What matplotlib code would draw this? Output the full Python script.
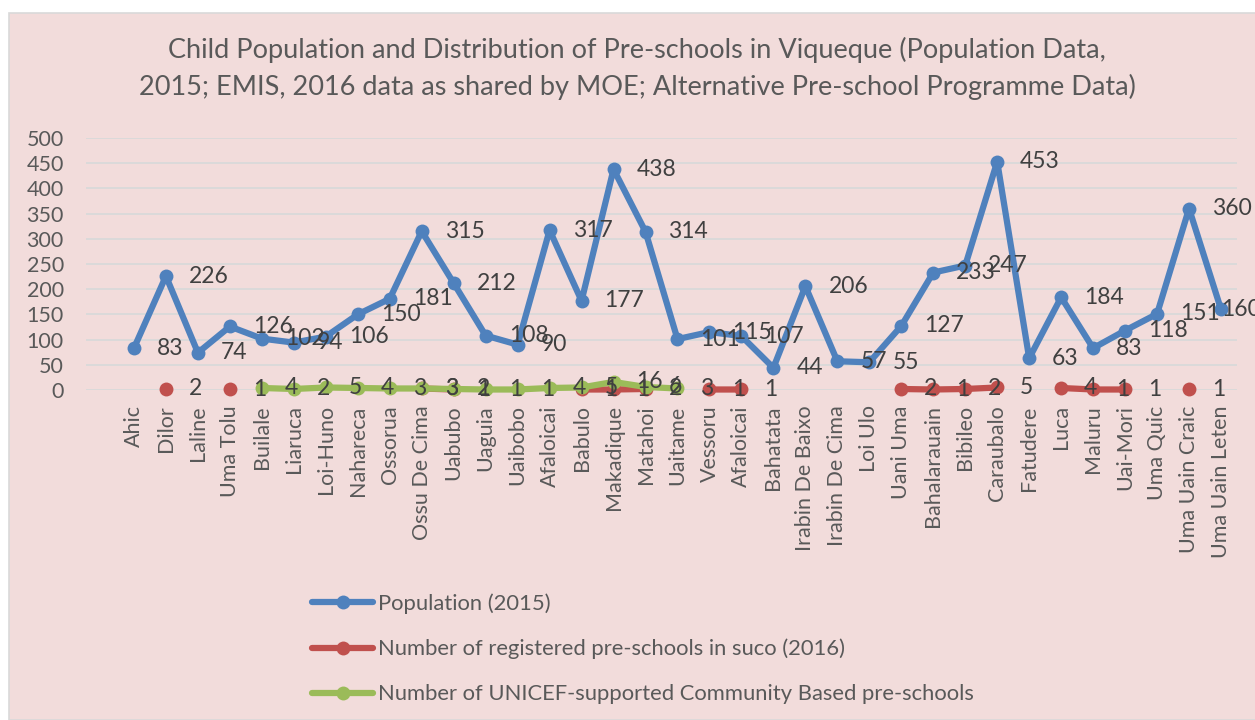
import numpy as np
import matplotlib
matplotlib.use("Agg")
import matplotlib.pyplot as plt
from matplotlib.patches import Rectangle

# data
sucos = ["Ahic", "Dilor", "Laline", "Uma Tolu", "Builale", "Liaruca", "Loi-Huno",
         "Nahareca", "Ossorua", "Ossu De Cima", "Uabubo", "Uaguia", "Uaibobo",
         "Afaloicai", "Babulo", "Makadique", "Matahoi", "Uaitame", "Vessoru",
         "Afaloicai", "Bahatata", "Irabin De Baixo", "Irabin De Cima", "Loi Ulo",
         "Uani Uma", "Bahalarauain", "Bibileo", "Caraubalo", "Fatudere", "Luca",
         "Maluru", "Uai-Mori", "Uma Quic", "Uma Uain Craic", "Uma Uain Leten"]

population = [83, 226, 74, 126, 102, 94, 106, 150, 181, 315, 212, 108, 90, 317,
              177, 438, 314, 101, 115, 107, 44, 206, 57, 55, 127, 233, 247, 453,
              63, 184, 83, 118, 151, 360, 160]

nan = np.nan
registered = [nan, 2, nan, 1, nan, nan, nan, nan, nan, 3, 1, nan, nan, nan,
              1, 1, 2, nan, 1, 1, nan, nan, nan, nan, 2, 1, 2, 5,
              nan, 4, 1, 1, nan, 1, nan]

unicef = [nan, nan, nan, nan, 4, 2, 5, 4, 3, 3, 2, 1, 1, 4,
          5, 16, 6, 3, nan, nan, nan, nan, nan, nan, nan, nan, nan, nan,
          nan, nan, nan, nan, nan, nan, nan]

series_names = ["Population (2015)",
                "Number of registered pre-schools in suco (2016)",
                "Number of UNICEF-supported Community Based pre-schools"]
y_ticks = [0, 50, 100, 150, 200, 250, 300, 350, 400, 450, 500]

title_1 = "Child Population and Distribution of Pre-schools in Viqueque (Population Data,"
title_2 = "2015; EMIS, 2016 data as shared by MOE; Alternative Pre-school Programme Data)"


def main():
    plt.rcParams["font.family"] = ["Lato", "DejaVu Sans"]
    grey_text = "#595959"
    label_text = "#404040"
    pink = "#F2DCDB"
    colors = ["#4F81BD", "#C0504D", "#9BBB59"]
    W, H = 1255, 720

    # 1. figure + chart area
    fig = plt.figure(figsize=(W / 100, H / 100), dpi=100, facecolor="white")
    fig.patches.append(Rectangle((9 / W, 0), 1, (H - 13) / H, transform=fig.transFigure,
                                 facecolor=pink, edgecolor="#D9D9D9", linewidth=1.2, zorder=-5))

    ax = fig.add_axes([86 / W, (H - 390) / H, (1237 - 86) / W, 252 / H])
    ax.set_facecolor("none")

    # 2. lines
    x = np.arange(len(sucos))
    all_series = [population, registered, unicef]
    handles = []
    for vals, col, name in zip(all_series, colors, series_names):
        h, = ax.plot(x, vals, color=col, linewidth=4.5, marker="o", markersize=10,
                     markeredgewidth=0, solid_capstyle="round", label=name, zorder=3,
                     clip_on=False)
        handles.append(h)

    # 3. data labels (right of each point)
    for vals in all_series:
        for i, v in enumerate(vals):
            if np.isnan(v):
                continue
            dx = 0 if i == len(vals) - 1 else 23
            ax.annotate(f"{v:g}", (i, v), xytext=(dx, 0), textcoords="offset pixels",
                        ha="left", va="center", fontsize=16.5, color=label_text,
                        zorder=5, annotation_clip=False)

    # 4. axes
    ax.set_xlim(-1.5, len(sucos) - 0.5)
    ax.set_ylim(0, 500)
    ax.set_yticks(y_ticks)
    ax.set_xticks(x)
    ax.set_xticklabels(sucos, rotation=90)
    ax.tick_params(axis="both", length=0, labelsize=15.5, labelcolor=grey_text)
    ax.tick_params(axis="x", pad=11)
    ax.tick_params(axis="y", pad=16)
    ax.grid(axis="y", color="#D9D9D9", linewidth=1.3)
    ax.set_axisbelow(True)
    for s in ax.spines.values():
        s.set_visible(False)

    # 5. title
    fig.text(637 / W, 1 - 50 / H, title_1, ha="center", va="center", fontsize=19.5, color=grey_text)
    fig.text(637 / W, 1 - 87 / H, title_2, ha="center", va="center", fontsize=19.5, color=grey_text)

    # 6. legend
    fig.legend(handles=handles, loc="upper left", bbox_to_anchor=(312 / W, 1 - 593 / H),
               frameon=False, fontsize=15.8, labelcolor=grey_text, handlelength=2.8,
               handletextpad=0.2, labelspacing=1.14, borderaxespad=0, borderpad=0)

    fig.savefig("out.png", dpi=100, facecolor="white")


if __name__ == "__main__":
    main()
